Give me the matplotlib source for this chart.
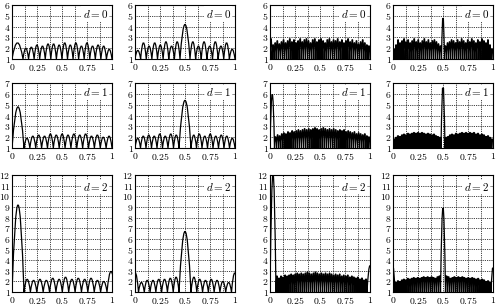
import numpy as np
import matplotlib
matplotlib.use("Agg")
import matplotlib.pyplot as plt
from matplotlib.path import Path
from matplotlib.patches import PathPatch

plt.rcParams["mathtext.fontset"] = "cm"
plt.rcParams["font.family"] = "serif"

ymax = [6, 7, 12]
x_ticks = [0, 0.25, 0.5, 0.75, 1]
x_labels = ["0", "0.25", "0.5", "0.75", "1"]

# each panel: list of (start, end, arch peaks); arches touch 1 between peaks
# column 1
c1_d0 = [(0.0, 0.11, [2.5]),
         (0.11, 1.0, [2.0, 2.1, 2.3, 2.2, 2.4, 2.4, 2.3, 2.5, 2.3, 2.5, 2.2, 2.5, 2.2, 2.3, 2.2, 1.9])]
c1_d1 = [(0.0, 0.12, [4.8]),
         (0.12, 1.0, [1.9, 2.1, 2.2, 2.1, 2.3, 2.2, 2.3, 2.2, 2.3, 2.2, 2.3, 2.1, 2.2, 2.0, 2.1])]
c1_d2 = [(0.0, 0.12, [9.2]),
         (0.12, 0.95, [2.2, 2.1, 2.2, 2.1, 2.3, 2.2, 2.4, 2.2, 2.3, 2.2, 2.3, 2.1, 2.0]),
         (0.95, 1.03, [2.95])]
# column 2
c2_d0 = [(0.0, 0.45, [1.8, 2.5, 2.2, 2.5, 2.3, 2.6, 2.2, 2.6]),
         (0.45, 0.55, [4.2]),
         (0.55, 1.0, [2.6, 2.2, 2.6, 2.2, 2.6, 2.2, 2.5, 1.9])]
c2_d1 = [(0.0, 0.44, [1.9, 2.1, 2.2, 2.1, 2.3, 2.1, 2.3, 2.2]),
         (0.44, 0.56, [5.4]),
         (0.56, 1.0, [2.2, 2.3, 2.1, 2.3, 2.1, 2.2, 2.1, 1.9])]
c2_d2 = [(-0.03, 0.035, [2.8]),
         (0.035, 0.44, [1.9, 2.1, 2.1, 2.2, 2.2, 2.3, 2.4]),
         (0.44, 0.56, [6.7]),
         (0.56, 0.965, [2.4, 2.2, 2.1, 2.2, 2.1, 2.0, 1.9]),
         (0.965, 1.03, [2.8])]
# column 3
c3_d0 = [(0.0, 1.0, [3.0, 2.4, 2.6, 2.8, 2.5, 2.7, 2.9, 2.6, 2.8, 3.0, 2.7, 2.9, 2.6, 2.8, 3.0, 2.7,
                     2.9, 3.0, 2.8, 2.6, 2.9, 3.0, 2.7, 2.9, 3.0, 2.8, 2.6, 2.9, 3.0, 2.7, 2.9, 2.8,
                     3.0, 2.7, 2.9, 2.6, 2.8, 3.0, 2.7, 2.9, 2.6, 2.8, 2.5, 2.7, 2.9, 2.6, 2.4, 2.3])]
c3_d1 = [(0.0, 0.045, [6.0]),
         (0.045, 1.0, [2.1, 2.3, 2.2, 2.4, 2.5, 2.4, 2.6, 2.5, 2.7, 2.6, 2.7, 2.8, 2.7, 2.8, 2.9, 2.8,
                       2.9, 2.8, 2.9, 3.0, 2.9, 2.8, 2.9, 3.0, 2.9, 2.8, 2.9, 2.8, 2.9, 2.8, 2.7, 2.8,
                       2.7, 2.8, 2.6, 2.7, 2.6, 2.5, 2.6, 2.4, 2.5, 2.4, 2.3, 2.4, 2.2, 2.1])]
c3_d2 = [(0.0, 0.06, [12.2]),
         (0.06, 0.97, [2.6, 2.4, 2.6, 2.5, 2.7, 2.6, 2.7, 2.8, 2.7, 2.8, 2.9, 2.8, 2.9, 2.8, 2.9,
                       3.0, 2.9, 2.8, 2.9, 3.0, 2.9, 2.8, 2.9, 2.8, 2.9, 2.8, 2.9, 2.8, 2.7, 2.8,
                       2.7, 2.8, 2.6, 2.7, 2.6, 2.7, 2.5, 2.6, 2.5, 2.4, 2.5, 2.3, 2.4, 2.2, 2.3]),
         (0.97, 1.03, [3.5])]
# column 4
c4_d0 = [(0.0, 0.485, [2.0, 2.4, 2.9, 2.6, 2.8, 3.0, 2.7, 2.9, 2.6, 2.8, 3.0, 2.7,
                       2.9, 2.6, 2.8, 3.0, 2.7, 2.9, 2.6, 2.8, 2.9, 2.7, 2.5, 2.3]),
         (0.485, 0.515, [5.0]),
         (0.515, 1.0, [2.3, 2.6, 2.7, 2.9, 2.8, 2.6, 2.9, 2.7, 3.0, 2.8, 2.6, 2.9,
                       2.7, 3.0, 2.8, 2.6, 2.9, 2.7, 3.0, 2.8, 2.6, 2.9, 2.4, 2.0])]
c4_d1 = [(0.0, 0.48, [2.1, 2.3, 2.5, 2.4, 2.6, 2.7, 2.6, 2.8, 2.7, 2.8, 2.9, 2.8,
                      2.9, 2.8, 2.9, 2.8, 2.7, 2.8, 2.7, 2.6, 2.7, 2.5, 2.4, 2.3]),
         (0.48, 0.52, [6.9]),
         (0.52, 1.0, [2.3, 2.4, 2.6, 2.7, 2.6, 2.8, 2.7, 2.8, 2.9, 2.8, 2.9, 2.8,
                      2.9, 2.8, 2.9, 2.7, 2.8, 2.6, 2.7, 2.6, 2.4, 2.5, 2.3, 2.1])]
c4_d2 = [(-0.02, 0.02, [3.4]),
         (0.02, 0.475, [2.2, 2.4, 2.3, 2.5, 2.6, 2.5, 2.7, 2.6, 2.7, 2.8, 2.7, 2.8,
                        2.7, 2.8, 2.9, 2.8, 2.9, 2.8, 2.9, 2.8, 2.7, 2.9, 3.0]),
         (0.475, 0.525, [9.0]),
         (0.525, 0.98, [3.0, 2.9, 2.7, 2.8, 2.9, 2.8, 2.9, 2.8, 2.9, 2.8, 2.7, 2.8,
                        2.7, 2.8, 2.7, 2.6, 2.7, 2.5, 2.6, 2.5, 2.3, 2.4, 2.2]),
         (0.98, 1.02, [3.4])]

panels = [[c1_d0, c2_d0, c3_d0, c4_d0],
          [c1_d1, c2_d1, c3_d1, c4_d1],
          [c1_d2, c2_d2, c3_d2, c4_d2]]

W, H = 499, 306
col_x = [(12, 112), (135, 235), (270, 370), (393, 493)]
row_y = [(5, 59), (83, 148), (175, 292)]

fig = plt.figure(figsize=(W / 100, H / 100), dpi=100)

for r in range(3):
    for c in range(4):
        x0, x1 = col_x[c]
        y0, y1 = row_y[r]
        ax = fig.add_axes([x0 / W, 1 - y1 / H, (x1 - x0) / W, (y1 - y0) / H])

        verts = []
        codes = []
        for start, end, peaks in panels[r][c]:
            edges = np.linspace(start, end, len(peaks) + 1)
            verts.append((edges[0], 1))
            codes.append(Path.LINETO if codes else Path.MOVETO)
            for i, p in enumerate(peaks):
                verts.append(((edges[i] + edges[i + 1]) / 2, 2 * p - 1))
                verts.append((edges[i + 1], 1))
                codes += [Path.CURVE3, Path.CURVE3]
        ax.add_patch(PathPatch(Path(verts, codes), facecolor="none",
                               edgecolor="black", lw=0.9))

        ax.set_xlim(0, 1)
        ax.set_ylim(1, ymax[r])
        ax.set_xticks(np.arange(0, 1.001, 0.125), minor=True)
        ax.set_xticks(x_ticks)
        ax.set_xticklabels(["$%s$" % s for s in x_labels])
        yt = list(range(1, ymax[r] + 1))
        ax.set_yticks(yt)
        ax.set_yticklabels(["$%d$" % v for v in yt])
        ax.tick_params(which="both", length=0, labelsize=7)
        ax.tick_params(axis="x", pad=2.5)
        ax.tick_params(axis="y", pad=1)
        ax.grid(True, which="both", color="black", linestyle=(0, (1, 1.2)), linewidth=0.6)
        ax.set_axisbelow(True)
        for s in ax.spines.values():
            s.set_linewidth(0.8)
        ax.text(0.96, 0.95, "$d=%d$" % r, transform=ax.transAxes, ha="right", va="top",
                fontsize=8, bbox=dict(facecolor="white", edgecolor="none", pad=1.0), zorder=5)

fig.savefig("out.png", dpi=100)
